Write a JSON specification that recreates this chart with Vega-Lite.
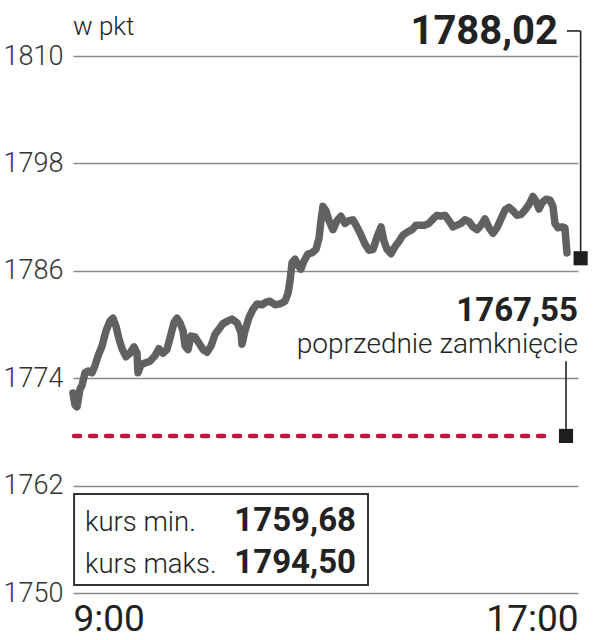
{
  "$schema": "https://vega.github.io/schema/vega-lite/v6.json",
  "width": 505,
  "height": 537,
  "autosize": {"type": "none"},
  "padding": {"left": 73, "top": 56, "right": 15, "bottom": 47},
  "background": "white",
  "config": {"view": {"stroke": null}, "font": "Roboto"},
  "encoding": {
    "x": {
      "field": "t", "type": "quantitative",
      "scale": {"domain": [0, 480], "nice": false, "zero": false},
      "axis": {
        "title": null, "values": [0, 480],
        "labelExpr": "datum.value == 0 ? '9:00' : '17:00'",
        "labelFlush": true, "grid": false, "domain": false, "ticks": false, "tickSize": 0,
        "labelPadding": 37, "labelBaseline": "alphabetic",
        "labelFont": "Roboto", "labelFontSize": 37, "labelColor": "#222222"
      }
    },
    "y": {
      "field": "v", "type": "quantitative",
      "scale": {"domain": [1750, 1810], "nice": false, "zero": false},
      "axis": {
        "title": null, "values": [1750, 1762, 1774, 1786, 1798, 1810], "format": "d",
        "grid": true, "gridColor": "#8a8a8a", "gridWidth": 1.5,
        "domain": false, "ticks": false, "tickSize": 0, "labelPadding": 10,
        "labelFont": "Roboto", "labelFontSize": 27, "labelFontWeight": 300, "labelColor": "#333333"
      }
    }
  },
  "layer": [
    {
      "data": {"values": [{"t": 1, "t2": 280.4, "v": 1761.06, "v2": 1750.9}]},
      "mark": {"type": "rect", "fill": "white", "stroke": "#333333", "strokeWidth": 2},
      "encoding": {"x2": {"field": "t2"}, "y2": {"field": "v2"}}
    },
    {
      "data": {"values": [{"t": 1, "t2": 451.5, "v": 1767.55}]},
      "mark": {"type": "rule", "color": "#c0183d", "strokeWidth": 4.5, "strokeDash": [6, 10], "strokeCap": "round"},
      "encoding": {"x2": {"field": "t2"}}
    },
    {
      "data": {"values": [
        {"t": 0, "v": 1772.35}, {"t": 1.9, "v": 1771.0}, {"t": 3.8, "v": 1770.8}, {"t": 6.7, "v": 1772.8},
        {"t": 8.6, "v": 1773.2}, {"t": 11.4, "v": 1774.6}, {"t": 14.3, "v": 1774.8}, {"t": 18.1, "v": 1774.6},
        {"t": 20.9, "v": 1775.4}, {"t": 23.8, "v": 1776.5}, {"t": 27.6, "v": 1777.6}, {"t": 31.4, "v": 1779.3},
        {"t": 35.2, "v": 1780.4}, {"t": 38.0, "v": 1780.7}, {"t": 40.9, "v": 1779.8}, {"t": 43.7, "v": 1778.4},
        {"t": 46.6, "v": 1777.3}, {"t": 50.4, "v": 1776.4}, {"t": 54.2, "v": 1776.8}, {"t": 58.0, "v": 1777.5},
        {"t": 60.8, "v": 1776.8}, {"t": 61.8, "v": 1774.6}, {"t": 64.6, "v": 1775.5}, {"t": 68.4, "v": 1775.7},
        {"t": 73.2, "v": 1775.9}, {"t": 77.9, "v": 1776.5}, {"t": 81.7, "v": 1777.3}, {"t": 85.5, "v": 1776.8},
        {"t": 89.3, "v": 1777.2}, {"t": 92.2, "v": 1778.5}, {"t": 96.0, "v": 1780.2}, {"t": 98.9, "v": 1780.7},
        {"t": 101.7, "v": 1780.2}, {"t": 104.6, "v": 1779.3}, {"t": 106.5, "v": 1777.6}, {"t": 109.3, "v": 1777.2},
        {"t": 112.2, "v": 1778.7}, {"t": 116.0, "v": 1778.6}, {"t": 119.8, "v": 1777.9}, {"t": 123.6, "v": 1777.2},
        {"t": 127.4, "v": 1776.9}, {"t": 131.2, "v": 1777.6}, {"t": 135.0, "v": 1778.9}, {"t": 138.8, "v": 1779.5},
        {"t": 142.6, "v": 1780.1}, {"t": 147.3, "v": 1780.4}, {"t": 151.1, "v": 1780.6}, {"t": 155.9, "v": 1780.2},
        {"t": 159.7, "v": 1779.1}, {"t": 160.6, "v": 1777.8}, {"t": 163.5, "v": 1779.3}, {"t": 167.3, "v": 1780.8},
        {"t": 171.1, "v": 1781.7}, {"t": 174.9, "v": 1782.3}, {"t": 179.6, "v": 1782.2}, {"t": 183.4, "v": 1782.5},
        {"t": 187.2, "v": 1782.6}, {"t": 192.0, "v": 1782.2}, {"t": 196.8, "v": 1782.3}, {"t": 201.5, "v": 1782.6},
        {"t": 204.4, "v": 1783.5}, {"t": 206.3, "v": 1784.9}, {"t": 208.2, "v": 1786.9}, {"t": 211.0, "v": 1787.3},
        {"t": 213.9, "v": 1786.6}, {"t": 216.7, "v": 1786.2}, {"t": 219.6, "v": 1787.1}, {"t": 223.4, "v": 1787.9},
        {"t": 227.2, "v": 1788.0}, {"t": 231.0, "v": 1788.4}, {"t": 233.8, "v": 1789.6}, {"t": 235.7, "v": 1791.6},
        {"t": 237.6, "v": 1793.2}, {"t": 240.5, "v": 1792.7}, {"t": 243.3, "v": 1791.6}, {"t": 247.1, "v": 1790.6},
        {"t": 250.9, "v": 1791.6}, {"t": 254.7, "v": 1792.1}, {"t": 258.5, "v": 1791.3}, {"t": 262.3, "v": 1791.6},
        {"t": 266.1, "v": 1791.7}, {"t": 269.9, "v": 1790.9}, {"t": 273.7, "v": 1790.0}, {"t": 277.5, "v": 1789.0},
        {"t": 281.3, "v": 1788.3}, {"t": 285.2, "v": 1788.4}, {"t": 289.0, "v": 1789.8}, {"t": 292.8, "v": 1790.9},
        {"t": 295.6, "v": 1789.3}, {"t": 298.5, "v": 1788.4}, {"t": 302.3, "v": 1787.9}, {"t": 306.1, "v": 1788.7},
        {"t": 309.9, "v": 1789.3}, {"t": 313.7, "v": 1790.0}, {"t": 317.5, "v": 1790.3}, {"t": 322.2, "v": 1790.6},
        {"t": 326.0, "v": 1791.1}, {"t": 329.8, "v": 1791.1}, {"t": 334.6, "v": 1791.1}, {"t": 338.4, "v": 1791.3},
        {"t": 342.2, "v": 1791.8}, {"t": 346.0, "v": 1792.2}, {"t": 349.8, "v": 1792.1}, {"t": 353.6, "v": 1792.2},
        {"t": 357.4, "v": 1791.6}, {"t": 361.2, "v": 1790.9}, {"t": 365.0, "v": 1791.1}, {"t": 368.8, "v": 1791.3},
        {"t": 372.6, "v": 1791.7}, {"t": 376.4, "v": 1791.5}, {"t": 380.2, "v": 1790.9}, {"t": 384.0, "v": 1790.6},
        {"t": 387.8, "v": 1791.1}, {"t": 391.6, "v": 1791.8}, {"t": 395.4, "v": 1790.8}, {"t": 399.2, "v": 1790.2},
        {"t": 403.0, "v": 1790.8}, {"t": 406.8, "v": 1791.8}, {"t": 410.6, "v": 1792.8}, {"t": 414.4, "v": 1793.1},
        {"t": 418.2, "v": 1792.7}, {"t": 422.0, "v": 1792.2}, {"t": 425.8, "v": 1792.3}, {"t": 429.6, "v": 1792.8},
        {"t": 433.4, "v": 1793.4}, {"t": 437.2, "v": 1794.3}, {"t": 440.1, "v": 1793.8}, {"t": 442.9, "v": 1792.9},
        {"t": 445.8, "v": 1793.6}, {"t": 449.6, "v": 1794.0}, {"t": 453.4, "v": 1793.9}, {"t": 456.2, "v": 1793.2},
        {"t": 458.1, "v": 1791.3}, {"t": 461.0, "v": 1790.8}, {"t": 464.8, "v": 1790.9}, {"t": 467.6, "v": 1790.8},
        {"t": 468.6, "v": 1789.3}, {"t": 469.5, "v": 1788.0}
      ]},
      "mark": {"type": "line", "color": "#616161", "strokeWidth": 7.5, "strokeCap": "round", "strokeJoin": "round"}
    },
    {
      "data": {"values": [
        {"t": 469.5, "t2": 482.5, "v": 1812.8, "v2": 1812.8},
        {"t": 482.5, "t2": 482.5, "v": 1812.8, "v2": 1787.4},
        {"t": 468.6, "t2": 468.6, "v": 1775.9, "v2": 1767.55}
      ]},
      "mark": {"type": "rule", "color": "#222222", "strokeWidth": 1.6},
      "encoding": {"x2": {"field": "t2"}, "y2": {"field": "v2"}}
    },
    {
      "data": {"values": [{"t": 482.5, "v": 1787.4}, {"t": 468.6, "v": 1767.55}]},
      "mark": {"type": "point", "shape": "square", "filled": true, "size": 200, "color": "#1e1e1e", "opacity": 1}
    },
    {
      "data": {"values": [
        {"t": 461, "v": 1811.34, "label": "1788,02", "size": 40},
        {"t": 480, "v": 1780.4, "label": "1767,55", "size": 33},
        {"t": 269, "v": 1756.93, "label": "1759,68", "size": 33},
        {"t": 269, "v": 1752.23, "label": "1794,50", "size": 33}
      ]},
      "mark": {"type": "text", "font": "Roboto", "fontWeight": "bold", "align": "right", "baseline": "alphabetic", "color": "#222222"},
      "encoding": {"text": {"field": "label"}, "size": {"field": "size", "type": "quantitative", "scale": null}}
    },
    {
      "data": {"values": [
        {"t": 480, "v": 1776.85, "label": "poprzednie zamknięcie"}
      ]},
      "mark": {"type": "text", "font": "Roboto", "fontWeight": 300, "fontSize": 28, "align": "right", "baseline": "alphabetic", "color": "#222222"},
      "encoding": {"text": {"field": "label"}}
    },
    {
      "data": {"values": [
        {"t": 0, "v": 1812.3, "label": "w pkt", "size": 26},
        {"t": 11.4, "v": 1756.93, "label": "kurs min.", "size": 27.5},
        {"t": 11.4, "v": 1752.23, "label": "kurs maks.", "size": 27.5}
      ]},
      "mark": {"type": "text", "font": "Roboto", "fontWeight": 300, "align": "left", "baseline": "alphabetic", "color": "#222222"},
      "encoding": {"text": {"field": "label"}, "size": {"field": "size", "type": "quantitative", "scale": null}}
    }
  ]
}
